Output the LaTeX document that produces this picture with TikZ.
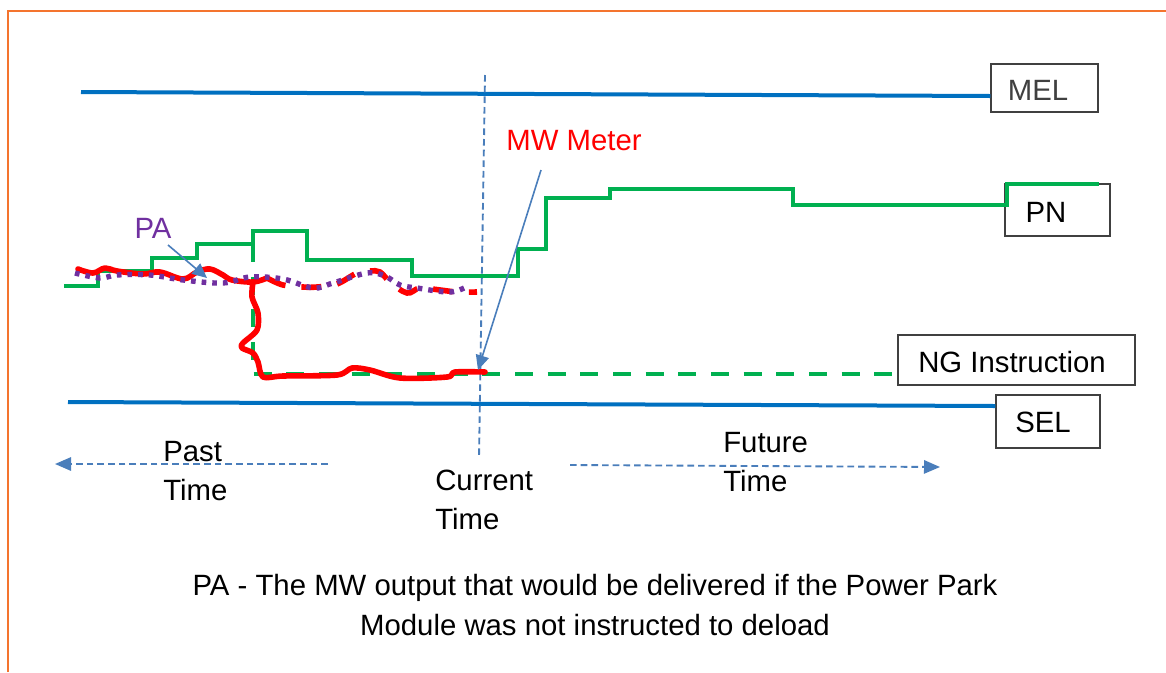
\documentclass[tikz,border=0pt]{standalone}
\usepackage{fontspec}
\setmainfont{Liberation Sans}
\usetikzlibrary{arrows.meta,calc}
\definecolor{frameorange}{HTML}{F4742E}
\definecolor{limitblue}{HTML}{0070C0}
\definecolor{stepgreen}{HTML}{00B050}
\definecolor{meterred}{HTML}{FF0000}
\definecolor{papurple}{HTML}{7030A0}
\definecolor{pointerblue}{HTML}{4A7EBB}
\definecolor{boxgray}{HTML}{404040}
\tikzset{
  txt/.style={font=\fontsize{22}{29}\selectfont, inner sep=0pt, align=left},
  limitbox/.style={draw=boxgray, line width=1.1pt, rectangle, inner sep=0pt},
  limitline/.style={draw=limitblue, line width=3pt},
  pnline/.style={draw=stepgreen, line width=3pt, line join=miter},
  ngline/.style={draw=stepgreen, line width=3pt, dash pattern=on 13.5pt off 11pt},
  meterline/.style={draw=meterred, line width=4.2pt, line join=round, line cap=round},
  meterdash/.style={draw=meterred, line width=4.2pt, dash pattern=on 15pt off 12pt},
  paline/.style={draw=papurple, line width=4pt, dash pattern=on 3.5pt off 4.5pt},
  pointer/.style={draw=pointerblue, line width=1.2pt, -{Triangle[length=11pt,width=10pt]}},
  timeline/.style={draw=pointerblue, line width=1.4pt, dash pattern=on 5pt off 3pt},
  timearrow/.style={timeline, -{Triangle[length=12pt,width=10pt]}}
}
\begin{document}
\begin{tikzpicture}[x=0.75pt,y=-0.75pt]
\useasboundingbox (0,0) rectangle (1166,672);
\fill[white] (0,0) rectangle (1166,672);

% frame
\draw[frameorange, line width=1.6pt] (8,672) -- (8,11) -- (1166,11);

% limit boxes
\node[limitbox, minimum width=80.25pt, minimum height=36pt] (mel) at (1044.5,88) {};
\node[txt, text=boxgray] (meltxt) at (1038,90) {MEL};
\node[limitbox, minimum width=78.75pt, minimum height=39pt] (pn) at (1057.5,210) {};
\node[txt] (pntxt) at (1046,212) {PN};
\node[limitbox, minimum width=177.75pt, minimum height=37.5pt] (ng) at (1016.5,360) {};
\node[txt] (ngtxt) at (1012,362) {NG Instruction};
\node[limitbox, minimum width=78pt, minimum height=39.75pt] (sel) at (1048,421.5) {};
\node[txt] (seltxt) at (1043,422) {SEL};

% MEL and SEL lines
\coordinate (melstart) at (81,92);
\coordinate (selstart) at (68,402);
\draw[limitline] (melstart) -- ($(mel.west)+(0,8)$);
\draw[limitline] (selstart) -- ($(sel.west)+(0,-15.5)$);

% current time marker
\coordinate (nowtop) at (485,75);
\coordinate (nowbot) at (479,458);
\draw[timeline] (nowtop) -- (nowbot);

% NG instruction (dashed green)
\coordinate (ngstep) at (253,244);
\coordinate (ngcorner) at (253,374);
\draw[ngline] (ngstep) -- (ngcorner) -- ($(ng.west)+(0,14)$);

% PN step profile
\coordinate (pnstart) at (64,286);
\coordinate (pnend) at (1099,184);
\draw[pnline] (pnstart) -| (98,271) -| (152,258) -| (197,244) -| (253,231) -| (307,260)
  -| (412,276) -| (518,249) -| (546,198) -| (610,189) -| (793,205) -| (1007,184) -- (pnend);

% MW meter (red)
\draw[meterline] plot[smooth, tension=0.6] coordinates {(78,269) (93,273) (105,268) (117,271) (143,274)
  (160,272) (183,279) (197,272) (210,269) (223,275) (232,280) (253,282) (267,278)};
\draw[meterdash] plot[smooth, tension=0.6] coordinates {(267,278) (283,285) (303,287) (317,287) (337,284)
  (357,273) (370,271) (380,272) (390,282) (407,293) (420,288) (440,290) (457,292) (477,292)};
\coordinate (meterend) at (485,372);
\draw[meterline] plot[smooth, tension=0.5] coordinates {(253,282) (252,297) (258,313) (257,330) (243,343)
  (242,348) (253,353) (258,362) (263,377) (283,376) (337,375) (352,368) (370,370) (400,378)
  (447,377) (455,372) (meterend)};

% PA (dotted purple)
\draw[paline] plot[smooth, tension=0.6] coordinates {(75,273) (100,278) (117,275) (150,275) (183,280)
  (223,283) (250,277) (283,279) (313,288) (333,283) (367,273) (385,276) (400,285) (417,288) (450,292) (468,286)};

% labels with pointers
\node[txt, text=meterred] (mwlabel) at (574,141) {MW Meter};
\coordinate (mwfrom) at (541,170);
\coordinate (mwto) at (478,370);
\draw[pointer] (mwfrom) -- (mwto);

\node[txt, text=papurple] (palabel) at (153,228) {PA};
\coordinate (pafrom) at (168,245);
\coordinate (pato) at (207,278);
\draw[pointer] (pafrom) -- (pato);

% time arrows
\coordinate (pastfrom) at (328,464);
\coordinate (pastto) at (55,464);
\draw[timearrow] (pastfrom) -- (pastto);
\coordinate (futfrom) at (570,465);
\coordinate (futto) at (940,467);
\draw[timearrow] (futfrom) -- (futto);

\node[txt, anchor=north west] (past) at (163,441) {Past\\Time};
\node[txt, anchor=north west] (current) at (435,470) {Current\\Time};
\node[txt, anchor=north west] (future) at (723,432) {Future\\Time};

% caption
\node[txt, align=center, anchor=north, font=\fontsize{22}{30}\selectfont] (caption) at (595,574)
  {PA - The MW output that would be delivered if the Power Park\\Module was not instructed to deload};
\end{tikzpicture}
\end{document}
